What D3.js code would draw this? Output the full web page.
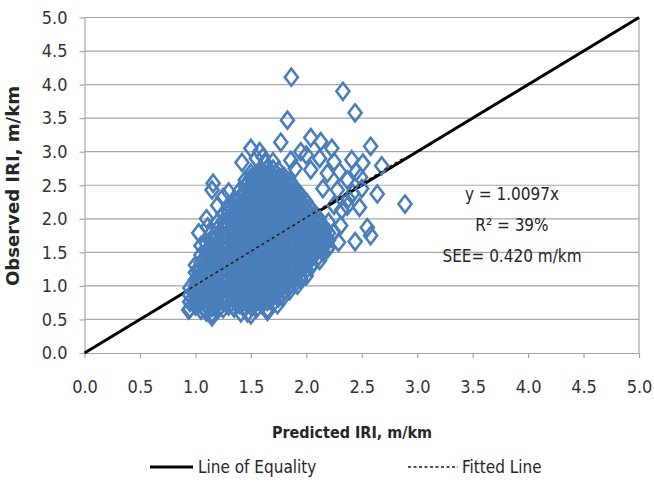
<!DOCTYPE html>
<meta charset="utf-8">
<html>
<head>
<title>Observed vs Predicted IRI</title>
<style>
body { margin: 0; background: #fff; }
svg text { font-family: "Liberation Sans Narrow", "DejaVu Sans Condensed", "Open Sans", sans-serif; fill: #262626; }
.grid line { stroke: #a6a6a6; stroke-width: 1.2; }
.axis path, .axis line { stroke: #a6a6a6; stroke-width: 1.2; fill: none; }
.axis text { font-size: 18px; fill: #333; }
.title { font-size: 16px; font-weight: bold; }
.note { font-size: 17px; }
.leg { font-size: 17px; }
</style>
</head>
<body>
<svg id="chart" width="654" height="484"></svg>

<script src="https://d3js.org/d3.v7.min.js"></script>
<script>

// tick values (both axes)
var ticks = [0, 0.5, 1, 1.5, 2, 2.5, 3, 3.5, 4, 4.5, 5];

// dense cluster of points, one column per predicted IRI value
var coreX = [0.95, 1.00, 1.05, 1.10, 1.15, 1.20, 1.25, 1.30, 1.35, 1.40, 1.45, 1.50, 1.55,
             1.60, 1.65, 1.70, 1.75, 1.80, 1.85, 1.90, 1.95, 2.00, 2.05, 2.10, 2.15, 2.20];
var coreY = [
  [0.66,0.76,0.86,0.97],
  [0.70,0.79,0.90,1.00,1.09,1.20,1.31],
  [0.64,0.75,0.85,0.94,1.05,1.15,1.26,1.35,1.46],
  [0.61,0.71,0.82,0.92,1.01,1.12,1.22,1.31,1.42,1.52,1.63],
  [0.59,0.68,0.78,0.89,0.98,1.08,1.19,1.28,1.38,1.49,1.58,1.69,1.80],
  [0.64,0.73,0.84,0.94,1.03,1.14,1.24,1.33,1.44,1.54,1.65,1.74,1.85,1.95],
  [0.66,0.77,0.86,0.96,1.07,1.16,1.27,1.36,1.46,1.57,1.66,1.76,1.87,1.96,2.07],
  [0.70,0.80,0.91,1.00,1.10,1.21,1.30,1.41,1.50,1.60,1.71,1.80,1.90,2.01,2.10,2.20],
  [0.67,0.78,0.88,0.98,1.09,1.18,1.28,1.39,1.48,1.58,1.69,1.78,1.88,1.99,2.08,2.18,2.29],
  [0.72,0.82,0.93,1.02,1.12,1.23,1.32,1.42,1.53,1.62,1.72,1.83,1.92,2.02,2.13,2.22,2.32,2.42],
  [0.68,0.78,0.89,0.98,1.08,1.19,1.28,1.38,1.49,1.58,1.68,1.79,1.88,1.98,2.09,2.18,2.28,2.39,2.48,2.58],
  [0.70,0.81,0.90,1.00,1.11,1.20,1.30,1.41,1.50,1.60,1.71,1.80,1.90,2.01,2.10,2.20,2.31,2.40,2.50,2.61,2.68],
  [0.66,0.76,0.87,0.96,1.06,1.17,1.26,1.36,1.47,1.56,1.66,1.77,1.86,1.96,2.07,2.16,2.26,2.37,2.46,2.56,2.67],
  [0.72,0.82,0.93,1.02,1.12,1.23,1.32,1.42,1.53,1.62,1.72,1.83,1.92,2.02,2.13,2.22,2.32,2.43,2.52,2.62,2.72],
  [0.66,0.77,0.86,0.96,1.07,1.16,1.26,1.37,1.46,1.56,1.67,1.76,1.86,1.97,2.06,2.16,2.27,2.36,2.46,2.57,2.66,2.76],
  [0.74,0.84,0.95,1.04,1.14,1.25,1.34,1.44,1.55,1.64,1.74,1.85,1.94,2.04,2.15,2.24,2.34,2.45,2.54,2.64,2.74],
  [0.82,0.92,1.03,1.12,1.22,1.33,1.42,1.52,1.63,1.72,1.82,1.93,2.02,2.12,2.23,2.32,2.42,2.53,2.62,2.72],
  [0.92,1.02,1.13,1.22,1.32,1.43,1.52,1.62,1.73,1.82,1.92,2.03,2.12,2.22,2.33,2.42,2.52,2.63],
  [1.00,1.10,1.21,1.30,1.40,1.51,1.60,1.70,1.81,1.90,2.00,2.11,2.20,2.30,2.41,2.50,2.57],
  [1.04,1.14,1.25,1.34,1.44,1.55,1.64,1.74,1.85,1.94,2.04,2.15,2.24,2.34,2.45],
  [1.14,1.24,1.35,1.44,1.54,1.65,1.74,1.84,1.95,2.04,2.14,2.25,2.35],
  [1.24,1.34,1.45,1.54,1.64,1.75,1.84,1.94,2.05,2.14,2.25],
  [1.32,1.42,1.53,1.62,1.72,1.83,1.92,2.02,2.13],
  [1.42,1.52,1.63,1.72,1.82,1.93,2.03],
  [1.50,1.60,1.71,1.80,1.90],
  [1.58,1.68,1.79]
];

// inner points of the cluster, between the columns above
var innerX = [1.025, 1.075, 1.125, 1.175, 1.225, 1.275, 1.325, 1.375, 1.425, 1.475, 1.525, 1.575,
              1.625, 1.675, 1.725, 1.775, 1.825, 1.875, 1.925, 1.975, 2.025, 2.075, 2.125, 2.175];
var innerY = [
  [0.72,0.82,0.92,1.02,1.12,1.22],
  [0.68,0.78,0.88,0.98,1.08,1.18,1.28,1.38],
  [0.66,0.76,0.86,0.96,1.06,1.16,1.26,1.36,1.46,1.56],
  [0.68,0.78,0.88,0.98,1.08,1.18,1.28,1.38,1.48,1.58,1.68],
  [0.70,0.80,0.90,1.00,1.10,1.20,1.30,1.40,1.50,1.60,1.70,1.80],
  [0.74,0.84,0.94,1.04,1.14,1.24,1.34,1.44,1.54,1.64,1.74,1.84,1.94],
  [0.75,0.85,0.95,1.05,1.15,1.25,1.35,1.45,1.55,1.65,1.75,1.85,1.95,2.05,2.15],
  [0.76,0.86,0.96,1.06,1.16,1.26,1.36,1.46,1.56,1.66,1.76,1.86,1.96,2.06,2.16,2.25],
  [0.76,0.86,0.96,1.06,1.16,1.26,1.36,1.46,1.56,1.66,1.76,1.86,1.96,2.06,2.16,2.26,2.36],
  [0.75,0.85,0.95,1.05,1.15,1.25,1.35,1.45,1.55,1.65,1.75,1.85,1.95,2.05,2.15,2.25,2.35,2.45,2.55],
  [0.75,0.85,0.95,1.05,1.15,1.25,1.35,1.45,1.55,1.65,1.75,1.85,1.95,2.05,2.15,2.25,2.35,2.45,2.55,2.60],
  [0.77,0.87,0.97,1.07,1.17,1.27,1.37,1.47,1.57,1.67,1.77,1.87,1.97,2.07,2.17,2.27,2.37,2.47,2.57,2.62],
  [0.77,0.87,0.97,1.07,1.17,1.27,1.37,1.47,1.57,1.67,1.77,1.87,1.97,2.07,2.17,2.27,2.37,2.47,2.57,2.67],
  [0.79,0.89,0.99,1.09,1.19,1.29,1.39,1.49,1.59,1.69,1.79,1.89,1.99,2.09,2.19,2.29,2.39,2.49,2.59,2.69],
  [0.87,0.97,1.07,1.17,1.27,1.37,1.47,1.57,1.67,1.77,1.87,1.97,2.07,2.17,2.27,2.37,2.47,2.57,2.67],
  [0.97,1.07,1.17,1.27,1.37,1.47,1.57,1.67,1.77,1.87,1.97,2.07,2.17,2.27,2.37,2.47,2.57,2.61],
  [1.05,1.15,1.25,1.35,1.45,1.55,1.65,1.75,1.85,1.95,2.05,2.15,2.25,2.35,2.45,2.55],
  [1.09,1.19,1.29,1.39,1.49,1.59,1.69,1.79,1.89,1.99,2.09,2.19,2.29,2.39,2.49],
  [1.19,1.29,1.39,1.49,1.59,1.69,1.79,1.89,1.99,2.09,2.19,2.29,2.39],
  [1.29,1.39,1.49,1.59,1.69,1.79,1.89,1.99,2.09,2.19,2.29],
  [1.37,1.47,1.57,1.67,1.77,1.87,1.97,2.07,2.17],
  [1.47,1.57,1.67,1.77,1.87,1.97,2.07],
  [1.55,1.65,1.75,1.85,1.95],
  [1.63,1.73,1.83]
];

// scattered points around the cluster
var outX = [1.865,2.33,2.44,1.83,1.77,2.04,2.13,2.23,2.58,2.41,2.68,2.51,1.50,1.42,1.16,1.15,
            2.64,2.89,2.48,2.32,2.31,2.55,2.58,2.44,2.29,2.19,2.10,1.25,1.29,1.03,1.11,1.61,
            1.86,2.04,2.19,2.37,2.28,2.42,2.37,2.49,1.63,1.95,1.65,1.79,1.92,2.04,1.15,0.94,
            0.95,1.47,1.74,1.41,1.50,1.58,1.95,2.00,2.12,2.25,2.30,1.55,1.70,1.90,2.15,2.25,
            2.20,2.25,2.12,2.00,1.85,1.30,1.20,1.10,1.05,2.38,2.50,2.45];
var outY = [4.11,3.90,3.58,3.47,3.14,3.21,3.15,3.05,3.08,2.88,2.79,2.83,3.05,2.84,2.53,2.43,
            2.37,2.22,2.17,2.13,1.90,1.87,1.75,1.66,1.65,1.55,1.57,2.32,2.14,1.79,1.88,2.92,
            2.87,2.73,2.68,2.58,2.43,2.38,2.19,2.62,2.83,1.09,0.62,0.83,1.01,1.28,0.54,0.64,
            0.76,0.60,0.72,0.60,0.57,3.00,3.00,2.95,2.90,2.85,2.70,2.90,2.85,2.75,2.45,2.20,
            1.95,1.80,1.38,1.15,0.93,2.40,2.20,2.00,1.60,2.30,2.45,2.70];

// line of equality and fitted line
var equality = [[0, 0], [5, 5]];
var fitSlope = 1.0097;
var fitRange = [0.95, 2.89];

var annotation = ["y = 1.0097x", "R\u00B2 = 39%", "SEE= 0.420 m/km"];

var svg = d3.select("#chart");

var x = d3.scaleLinear().domain([0, 5]).range([84.5, 639]);
var y = d3.scaleLinear().domain([0, 5]).range([353, 17.5]);

// gridlines
svg.append("g").attr("class", "grid")
  .selectAll("line")
  .data(ticks.filter(function(d) { return d > 0; }))
  .enter().append("line")
    .attr("x1", x(0)).attr("x2", x(5))
    .attr("y1", function(d) { return y(d); })
    .attr("y2", function(d) { return y(d); });
svg.append("g").attr("class", "grid").append("line")
  .attr("x1", x(5)).attr("x2", x(5)).attr("y1", y(0)).attr("y2", y(5));

// axes
svg.append("g").attr("class", "axis")
  .attr("transform", "translate(" + x(0) + ",0)")
  .call(d3.axisLeft(y).tickValues(ticks).tickSize(5).tickSizeOuter(0).tickPadding(12).tickFormat(d3.format(".1f")));
svg.append("g").attr("class", "axis")
  .attr("transform", "translate(0," + y(0) + ")")
  .call(d3.axisBottom(x).tickValues(ticks).tickSize(5).tickSizeOuter(0).tickPadding(22).tickFormat(d3.format(".1f")));

// line of equality
var line = d3.line().x(function(d) { return x(d[0]); }).y(function(d) { return y(d[1]); });
svg.append("path")
  .datum(equality)
  .attr("d", line)
  .attr("fill", "none").attr("stroke", "#000").attr("stroke-width", 3);

// points
var pts = [];
coreX.forEach(function(px, i) {
  coreY[i].forEach(function(py) { pts.push([px, py]); });
});
innerX.forEach(function(px, i) {
  innerY[i].forEach(function(py) { pts.push([px, py]); });
});
outX.forEach(function(px, i) { pts.push([px, outY[i]]); });

var diamond = "M0,-8.5L6.5,0L0,8.5L-6.5,0Z";
svg.append("g")
  .selectAll("path")
  .data(pts)
  .enter().append("path")
    .attr("d", diamond)
    .attr("transform", function(d) { return "translate(" + x(d[0]) + "," + y(d[1]) + ")"; })
    .attr("fill", "none")
    .attr("stroke", "#4A7EBB")
    .attr("stroke-width", 2.6);

// fitted line
svg.append("path")
  .datum(fitRange.map(function(v) { return [v, v * fitSlope]; }))
  .attr("d", line)
  .attr("fill", "none").attr("stroke", "#1a1a1a").attr("stroke-width", 1.5)
  .attr("stroke-dasharray", "3,3");

// regression text
svg.selectAll(".note")
  .data(annotation)
  .enter().append("text")
    .attr("class", "note")
    .attr("x", 512)
    .attr("y", function(d, i) { return 200 + i * 31; })
    .attr("text-anchor", "middle")
    .text(function(d) { return d; });

// axis titles
svg.append("text")
  .attr("class", "title")
  .attr("x", 352).attr("y", 438)
  .attr("text-anchor", "middle")
  .text("Predicted IRI, m/km");
svg.append("text")
  .attr("class", "title")
  .attr("transform", "translate(19,186) rotate(-90)")
  .attr("text-anchor", "middle")
  .attr("textLength", 200)
  .attr("lengthAdjust", "spacingAndGlyphs")
  .style("font-size", "17px")
  .text("Observed IRI, m/km");

// legend
svg.append("line").attr("x1", 150).attr("x2", 193).attr("y1", 467).attr("y2", 467)
  .attr("stroke", "#000").attr("stroke-width", 3);
svg.append("text").attr("class", "leg").attr("x", 198).attr("y", 473).text("Line of Equality");
svg.append("line").attr("x1", 408).attr("x2", 458).attr("y1", 467).attr("y2", 467)
  .attr("stroke", "#1a1a1a").attr("stroke-width", 1.3).attr("stroke-dasharray", "3,2.5");
svg.append("text").attr("class", "leg").attr("x", 462).attr("y", 473).text("Fitted Line");

</script>
</body>
</html>
